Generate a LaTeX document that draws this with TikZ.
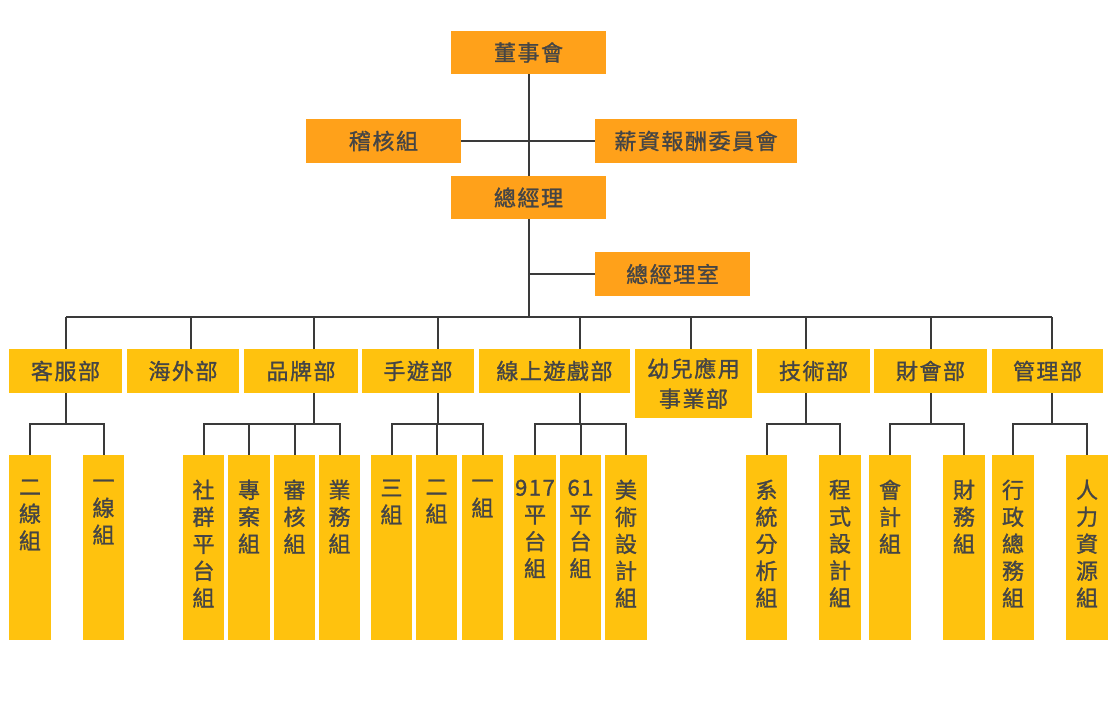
\documentclass[tikz,border=0pt]{standalone}
\usepackage{fontspec}
\setmainfont{Noto Sans CJK TC}[FakeBold=1.2, LetterSpace=7]
\definecolor{topc}{HTML}{FFA11A}
\definecolor{depc}{HTML}{FFC20E}
\definecolor{linec}{HTML}{3A3A3A}
\definecolor{txtc}{HTML}{454545}
\newcommand{\orgbox}[7]{\node[#6, minimum width={(#4-#2)*0.75pt}, minimum height={(#5-#3)*0.75pt}] (#1) at ({(#2+#4)/2},{(#3+#5)/2}) {#7};}
\newcommand{\vt}[1]{\parbox[c][138.75pt][t]{31pt}{\centering\vspace*{18.5pt}#1}}
\tikzset{
  topbox/.style={fill=topc, text=txtc, inner sep=0pt, font=\fontsize{16.5}{22.5}\selectfont},
  depbox/.style={fill=depc, text=txtc, inner sep=0pt, font=\fontsize{16.5}{22.5}\selectfont, align=center},
  subbox/.style={fill=depc, text=txtc, inner sep=0pt, font=\fontsize{16.5}{20.25}\selectfont},
  conn/.style={draw=linec, line width=1.5pt}
}
\begin{document}
\begin{tikzpicture}[x=0.75pt,y=-0.75pt]
\fill[white] (0,0) rectangle (1110,724);
\useasboundingbox (0,0) rectangle (1110,724);
% top
\orgbox{dsh}{451}{31}{606}{74}{topbox}{董事會}
\orgbox{audit}{306}{119}{461}{163}{topbox}{稽核組}
\orgbox{comp}{595}{119}{797}{163}{topbox}{薪資報酬委員會}
\orgbox{gm}{451}{176}{606}{219}{topbox}{總經理}
\orgbox{gmo}{595}{252}{750}{296}{topbox}{總經理室}
% departments
\orgbox{kf}{9}{349}{122}{393}{depbox}{客服部}
\orgbox{hw}{127}{349}{239}{393}{depbox}{海外部}
\orgbox{pp}{244}{349}{358}{393}{depbox}{品牌部}
\orgbox{sy}{362}{349}{474}{393}{depbox}{手遊部}
\orgbox{xs}{479}{349}{630}{393}{depbox}{線上遊戲部}
\orgbox{ye}{635}{349}{752}{418}{depbox}{幼兒應用\\事業部}
\orgbox{js}{757}{349}{870}{393}{depbox}{技術部}
\orgbox{ck}{874}{349}{987}{393}{depbox}{財會部}
\orgbox{gl}{992}{349}{1103}{393}{depbox}{管理部}
% groups
\orgbox{kf1}{9}{455}{51}{640}{subbox}{\vt{二\\線\\組}}
\orgbox{kf2}{83}{455}{124}{640}{subbox}{\vt{一\\線\\組}}
\orgbox{pp1}{183}{455}{224}{640}{subbox}{\vt{社\\群\\平\\台\\組}}
\orgbox{pp2}{229}{455}{269}{640}{subbox}{\vt{專\\案\\組}}
\orgbox{pp3}{274}{455}{315}{640}{subbox}{\vt{審\\核\\組}}
\orgbox{pp4}{319}{455}{360}{640}{subbox}{\vt{業\\務\\組}}
\orgbox{sy1}{371}{455}{412}{640}{subbox}{\vt{三\\組}}
\orgbox{sy2}{416}{455}{457}{640}{subbox}{\vt{二\\組}}
\orgbox{sy3}{462}{455}{503}{640}{subbox}{\vt{一\\組}}
\orgbox{xs1}{514}{455}{556}{640}{subbox}{\vt{917\\平\\台\\組}}
\orgbox{xs2}{560}{455}{601}{640}{subbox}{\vt{61\\平\\台\\組}}
\orgbox{xs3}{605}{455}{647}{640}{subbox}{\vt{美\\術\\設\\計\\組}}
\orgbox{js1}{746}{455}{787}{640}{subbox}{\vt{系\\統\\分\\析\\組}}
\orgbox{js2}{819}{455}{861}{640}{subbox}{\vt{程\\式\\設\\計\\組}}
\orgbox{ck1}{869}{455}{911}{640}{subbox}{\vt{會\\計\\組}}
\orgbox{ck2}{943}{455}{985}{640}{subbox}{\vt{財\\務\\組}}
\orgbox{gl1}{992}{455}{1034}{640}{subbox}{\vt{行\\政\\總\\務\\組}}
\orgbox{gl2}{1066}{455}{1108}{640}{subbox}{\vt{人\\力\\資\\源\\組}}
% coordinates
\coordinate (bus) at (0,317);
\coordinate (sb) at (0,424);
\coordinate (j1) at (66,317);
\coordinate (j2) at (191,317);
\coordinate (j3) at (314,317);
\coordinate (j4) at (438,317);
\coordinate (j5) at (580,317);
\coordinate (j6) at (691,317);
\coordinate (j7) at (806,317);
\coordinate (j8) at (931,317);
\coordinate (j9) at (1052,317);
% top connectors
\draw[conn] (dsh.south) -- (gm.north);
\draw[conn] (audit.east) -- (comp.west);
\draw[conn] (gm.south) -- (gm.south |- bus);
\draw[conn] (gmo.west) -- (gmo.west -| gm.south);
\draw[conn] (j1) -- (j9);
\foreach \j/\d in {j1/kf,j2/hw,j3/pp,j4/sy,j5/xs,j6/ye,j7/js,j8/ck,j9/gl}
  \draw[conn] (\j) -- (\d.north -| \j);
% sub connectors
\foreach \j/\d in {j1/kf,j3/pp,j4/sy,j5/xs,j7/js,j8/ck,j9/gl}
  \draw[conn] (\d.south -| \j) -- (\j |- sb);
\draw[conn] (kf1.north) -- (kf1.north |- sb) -- (kf2.north |- sb) -- (kf2.north);
\draw[conn] (pp1.north) -- (pp1.north |- sb) -- (pp4.north |- sb) -- (pp4.north);
\draw[conn] (pp2.north) -- (pp2.north |- sb);
\draw[conn] (pp3.north) -- (pp3.north |- sb);
\draw[conn] (sy1.north) -- (sy1.north |- sb) -- (sy3.north |- sb) -- (sy3.north);
\draw[conn] (sy2.north) -- (sy2.north |- sb);
\draw[conn] (xs1.north) -- (xs1.north |- sb) -- (xs3.north |- sb) -- (xs3.north);
\draw[conn] (xs2.north) -- (xs2.north |- sb);
\draw[conn] (js1.north) -- (js1.north |- sb) -- (js2.north |- sb) -- (js2.north);
\draw[conn] (ck1.north) -- (ck1.north |- sb) -- (ck2.north |- sb) -- (ck2.north);
\draw[conn] (gl1.north) -- (gl1.north |- sb) -- (gl2.north |- sb) -- (gl2.north);
\end{tikzpicture}
\end{document}
